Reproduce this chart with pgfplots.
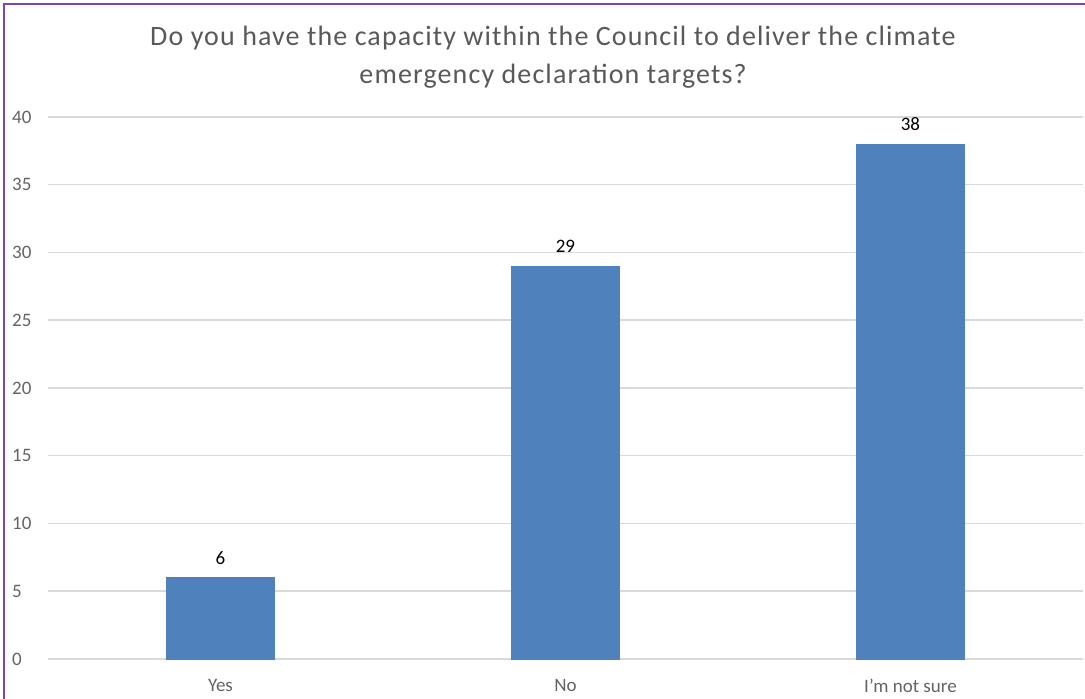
\documentclass[border=0pt]{standalone}
\usepackage{pgfplots}
\pgfplotsset{compat=1.18}
\usepackage{fontspec}
\setmainfont{Carlito}
\newfontfamily\titlefont[LetterSpace=4]{Carlito}
\definecolor{barblue}{RGB}{79,129,189}
\definecolor{gridgray}{RGB}{217,217,217}
\definecolor{txtgray}{RGB}{89,89,89}
\definecolor{ticktxt}{RGB}{100,100,100}
\definecolor{framepurple}{RGB}{125,70,170}
\begin{document}
\begin{tikzpicture}[x=1pt,y=1pt]
\useasboundingbox (0,0) rectangle (1085,699);
\fill[white] (0,0) rectangle (1085,699);
\draw[framepurple, line width=2.5pt] (4,0) -- (4,695) -- (1085,695);
\node[txtgray, font=\titlefont\fontsize{28}{38}\selectfont, align=center] at (553,642) {Do you have the capacity within the Council to deliver the climate\\emergency declaration targets?};
\begin{axis}[
  at={(48pt,40pt)}, anchor=south west,
  scale only axis,
  width=1035pt, height=542pt,
  xmin=-0.5, xmax=2.5,
  ymin=0, ymax=40,
  ytick={0,5,...,40},
  xtick=data,
  xticklabels={Yes,No,I'm not sure},
  ymajorgrids,
  grid style={gridgray, line width=1.5pt},
  axis x line*=bottom,
  axis y line*=left,
  y axis line style={draw=none},
  x axis line style={gridgray, line width=1.5pt},
  major tick length=0pt,
  tick style={draw=none},
  xticklabel style={ticktxt, font=\fontsize{19}{22}\selectfont, yshift=-17pt},
  yticklabel style={ticktxt, font=\fontsize{19}{22}\selectfont, anchor=west, inner sep=0pt, xshift=-36pt},
  /pgf/number format/assume math mode=true,
  nodes near coords,
  nodes near coords style={black, font=\fontsize{19}{22}\selectfont, yshift=10pt},
  enlargelimits=false,
  clip=false,
]
\addplot[ybar, bar width=108pt, fill=barblue, draw=barblue] coordinates {(0,6) (1,29) (2,38)};
\end{axis}
\end{tikzpicture}
\end{document}
